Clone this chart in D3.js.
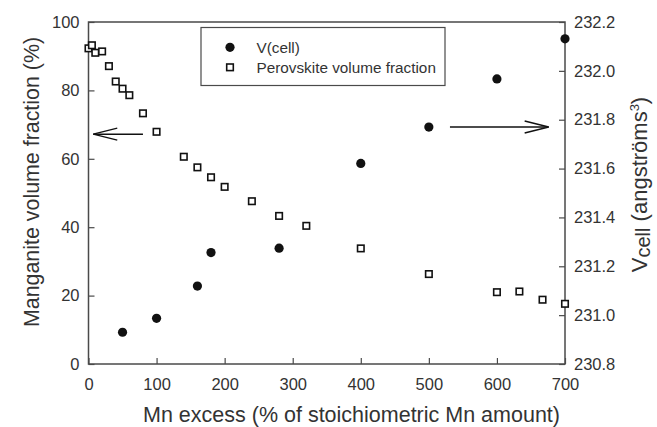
<!DOCTYPE html>
<html>
<head>
<meta charset="utf-8">
<script src="https://cdn.jsdelivr.net/npm/d3@7"></script>
<style>
  html, body { margin: 0; padding: 0; background: #fff; }
  svg { display: block; font-family: "Liberation Sans", Arial, sans-serif; }
</style>
</head>
<body>
<svg id="chart" width="657" height="427"></svg>
<script>
// Perovskite volume fraction (left axis, %)
const perovX = [0, 5, 10, 20, 30, 40, 50, 60, 80, 100, 140, 160, 180, 200, 240, 280, 320, 400, 500, 600, 633, 667, 700];
const perovY = [92.3, 93.2, 91.0, 91.4, 87.1, 82.6, 80.5, 78.6, 73.3, 67.9, 60.6, 57.5, 54.6, 51.8, 47.6, 43.3, 40.4, 33.8, 26.3, 21.0, 21.2, 18.8, 17.6];
// V(cell) (right axis, angstrom^3)
const vcellX = [50, 100, 160, 180, 280, 400, 500, 600, 700];
const vcellY = [230.930, 230.987, 231.119, 231.256, 231.274, 231.621, 231.770, 231.967, 232.131];
// ticks
const xTicks = [0, 100, 200, 300, 400, 500, 600, 700];
const yLeftTicks = [0, 20, 40, 60, 80, 100];
const yRightTicks = [230.8, 231.0, 231.2, 231.4, 231.6, 231.8, 232.0, 232.2];

const svg = d3.select("#chart");
const L = 88.5, R = 565, T = 22, B = 364;
const axisColor = "#4a4a4a";
const textColor = "#333";

const x = d3.scaleLinear().domain([0, 700]).range([L, R]);
const yL = d3.scaleLinear().domain([0, 100]).range([B, T]);
const yR = d3.scaleLinear().domain([230.8, 232.2]).range([B, T]);

// frame
svg.append("rect").attr("x", L).attr("y", T).attr("width", R - L).attr("height", B - T)
  .attr("fill", "none").attr("stroke", axisColor).attr("stroke-width", 1.5);

function styleAxis(g) {
  g.select(".domain").remove();
  g.selectAll(".tick line").attr("stroke", axisColor).attr("stroke-width", 1.2);
  g.selectAll(".tick text").attr("fill", textColor).style("font-size", "16.5px");
}

svg.append("g").attr("transform", `translate(0,${B})`)
  .call(d3.axisBottom(x).tickValues(xTicks).tickSizeInner(-6).tickSizeOuter(0).tickPadding(14).tickFormat(d3.format("d")))
  .call(styleAxis);

svg.append("g").attr("transform", `translate(${L},0)`)
  .call(d3.axisLeft(yL).tickValues(yLeftTicks).tickSizeInner(-6).tickSizeOuter(0).tickPadding(9).tickFormat(d3.format("d")))
  .call(styleAxis);

svg.append("g").attr("transform", `translate(${R},0)`)
  .call(d3.axisRight(yR).tickValues(yRightTicks).tickSizeInner(-6).tickSizeOuter(0).tickPadding(9).tickFormat(d3.format(".1f")))
  .call(styleAxis);

// data: squares
const sq = 6.5;
svg.append("g").selectAll("rect").data(perovX.map((d, i) => [d, perovY[i]])).join("rect")
  .attr("x", d => x(d[0]) - sq / 2).attr("y", d => yL(d[1]) - sq / 2)
  .attr("width", sq).attr("height", sq)
  .attr("fill", "#fff").attr("stroke", "#111").attr("stroke-width", 1.6);

// data: circles
svg.append("g").selectAll("circle").data(vcellX.map((d, i) => [d, vcellY[i]])).join("circle")
  .attr("cx", d => x(d[0])).attr("cy", d => yR(d[1])).attr("r", 4.6).attr("fill", "#111");

// arrows (open heads)
function arrow(x1, x2, yy) {
  const g = svg.append("g").attr("stroke", "#111").attr("stroke-width", 1.4).attr("fill", "none");
  g.append("line").attr("x1", x1).attr("x2", x2).attr("y1", yy).attr("y2", yy);
  const dir = x2 > x1 ? -1 : 1;
  g.append("path").attr("d", `M${x2 + dir * 24},${yy - 6} L${x2},${yy} L${x2 + dir * 24},${yy + 6}`);
}
arrow(x(80), x(7), yL(67.2));
arrow(x(531), x(676), yR(231.77));

// legend
const lg = svg.append("g");
lg.append("rect").attr("x", 201).attr("y", 27.5).attr("width", 244).attr("height", 58)
  .attr("fill", "#fff").attr("stroke", axisColor).attr("stroke-width", 1.2);
lg.append("circle").attr("cx", 230).attr("cy", 47.3).attr("r", 4.6).attr("fill", "#111");
lg.append("rect").attr("x", 230 - 3.3).attr("y", 67.3 - 3.3).attr("width", 6.6).attr("height", 6.6)
  .attr("fill", "#fff").attr("stroke", "#111").attr("stroke-width", 1.6);
lg.append("text").attr("x", 256.5).attr("y", 52.8).attr("fill", textColor).style("font-size", "15.3px").text("V(cell)");
lg.append("text").attr("x", 256.5).attr("y", 72.5).attr("fill", textColor).style("font-size", "15.3px").text("Perovskite volume fraction");

// axis titles
svg.append("text").attr("x", 351.5).attr("y", 421.5).attr("text-anchor", "middle")
  .attr("fill", textColor).style("font-size", "21.5px").text("Mn excess (% of stoichiometric Mn amount)");

svg.append("text").attr("transform", `translate(38.5,182) rotate(-90)`).attr("text-anchor", "middle")
  .attr("fill", textColor).style("font-size", "21.4px").text("Manganite volume fraction (%)");

const rt = svg.append("text").attr("transform", `translate(646.5,184.5) rotate(-90)`).attr("text-anchor", "middle")
  .attr("fill", textColor).style("font-size", "22px");
rt.append("tspan").text("V");
rt.append("tspan").attr("dy", 3.5).style("font-size", "20px").text("cell");
rt.append("tspan").attr("dy", -3.5).text(" (angströms");
rt.append("tspan").attr("dy", -8).style("font-size", "13px").text("3");
rt.append("tspan").attr("dy", 8).text(")");
</script>
</body>
</html>
